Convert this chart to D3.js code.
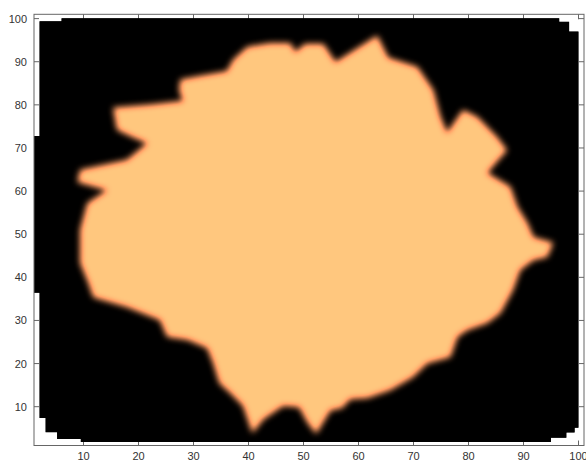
<!DOCTYPE html>
<html>
<head>
<meta charset="utf-8">
<script src="https://cdn.jsdelivr.net/npm/d3@7/dist/d3.min.js"></script>
<style>
  body { margin: 0; background: #fff; }
  svg { display: block; font-family: "Liberation Sans", Arial, sans-serif; }
</style>
</head>
<body>
<div id="chart"></div>
<script>
// axis ticks (both axes run 1..101)
const xTicks = [10, 20, 30, 40, 50, 60, 70, 80, 90, 100];
const yTicks = [10, 20, 30, 40, 50, 60, 70, 80, 90, 100];

// outline of the valid (non-NaN) part of the grid, value 0 -> black
const domainX = [1, 2, 2, 6, 6, 96.5, 96.5, 98.3, 98.3, 100, 100, 99.3, 99.3, 97.8, 97.8, 95, 95, 9.5, 9.5, 5.2, 5.2, 3.1, 3.1, 2, 2, 1];
const domainY = [72.8, 72.8, 99.4, 99.4, 100.1, 100.1, 99.3, 99.3, 97, 97, 5.1, 5.1, 4, 4, 2.8, 2.8, 1.8, 1.8, 2.5, 2.5, 4.1, 4.1, 7.4, 7.4, 36.4, 36.4];

// outline of the grown region, value 1
const blobX = [15.4, 22.1, 28.1, 27.4, 27.6, 31.2, 36.1, 37.2, 39.8, 43.9, 47.6, 48.5, 50.3, 53.6, 55.8, 63.4, 65.4, 70.7, 73.6, 74.9,
  76.1, 79.0, 81.6, 85.2, 87.0, 85.4, 83.4, 87.6, 88.9, 90.7, 91.8, 95.4, 94.3, 91.8, 89.4, 88.1, 85.8, 83.4, 79.8, 78.0,
  76.7, 72.5, 69.9, 65.8, 61.6, 58.5, 57.0, 54.9, 52.3, 50.7, 49.2, 46.3, 42.7, 40.7, 39.0, 36.7, 34.7, 33.6, 32.5, 28.9,
  25.2, 23.9, 17.9, 11.8, 10.9, 9.4, 9.4, 10.7, 14.3, 8.9, 9.4, 17.9, 21.6, 19.0, 16.1];
const blobY = [79.3, 80.0, 80.9, 83.4, 85.8, 86.7, 87.8, 90.4, 93.4, 94.3, 94.3, 92.2, 94.1, 94.1, 89.9, 96.0, 90.9, 88.8, 83.4, 77.2,
  73.5, 78.8, 77.2, 72.5, 69.5, 67.2, 64.2, 61.0, 56.3, 52.6, 49.3, 48.0, 44.7, 44.0, 41.7, 37.1, 31.7, 29.4, 27.8, 26.2,
  21.5, 20.1, 16.9, 13.9, 12.0, 11.8, 9.7, 9.2, 3.7, 6.4, 9.9, 10.2, 7.1, 3.9, 10.2, 13.2, 15.5, 20.1, 23.6, 25.5,
  26.2, 30.1, 33.1, 35.4, 38.7, 43.3, 51.0, 57.2, 60.2, 62.1, 64.9, 67.2, 71.1, 72.5, 74.2];

const W = 586, H = 464;

const svg = d3.select("#chart").append("svg")
  .attr("width", W)
  .attr("height", H);

const x = d3.scaleLinear().domain([1, 101]).range([34, 584]);
const y = d3.scaleLinear().domain([1, 101]).range([445.5, 14.3]);

const defs = svg.append("defs");

// interpolated shading: blur the value field, then map it through the copper colormap
const f = defs.append("filter")
  .attr("id", "copper")
  .attr("color-interpolation-filters", "sRGB")
  .attr("x", -0.2).attr("y", -0.2).attr("width", 1.4).attr("height", 1.4);
f.append("feGaussianBlur").attr("in", "SourceGraphic").attr("stdDeviation", 3.2).attr("result", "b");
f.append("feFlood").attr("flood-color", "#000").attr("result", "k");
f.append("feComposite").attr("in", "b").attr("in2", "k").attr("operator", "over").attr("result", "c");
const ct = f.append("feComponentTransfer").attr("in", "c");
ct.append("feFuncR").attr("type", "linear").attr("slope", 1.25);
ct.append("feFuncG").attr("type", "linear").attr("slope", 0.7812);
ct.append("feFuncB").attr("type", "linear").attr("slope", 0.4975);

const domainPts = domainX.map((d, i) => [d, domainY[i]]);
const blobPts = blobX.map((d, i) => [d, blobY[i]]);

const line = d3.line()
  .x(d => x(d[0]))
  .y(d => y(d[1]))
  .curve(d3.curveLinearClosed);

defs.append("clipPath").attr("id", "dom")
  .append("path").attr("d", line(domainPts));

// ticks first (inside, all four sides), the image covers most of them
const tickLen = 5;
const axisCol = "#666";
const g = svg.append("g");

g.selectAll(".xb").data(xTicks).enter().append("line")
  .attr("x1", d => x(d)).attr("x2", d => x(d))
  .attr("y1", y(1)).attr("y2", y(1) - tickLen)
  .attr("stroke", axisCol);
g.selectAll(".xt").data(xTicks).enter().append("line")
  .attr("x1", d => x(d)).attr("x2", d => x(d))
  .attr("y1", y(101)).attr("y2", y(101) + tickLen)
  .attr("stroke", axisCol);
g.selectAll(".yl").data(yTicks).enter().append("line")
  .attr("y1", d => y(d)).attr("y2", d => y(d))
  .attr("x1", x(1)).attr("x2", x(1) + tickLen)
  .attr("stroke", axisCol);
g.selectAll(".yr").data(yTicks).enter().append("line")
  .attr("y1", d => y(d)).attr("y2", d => y(d))
  .attr("x1", x(101)).attr("x2", x(101) - tickLen)
  .attr("stroke", axisCol);

// the image
const img = svg.append("g").attr("clip-path", "url(#dom)");
img.append("path")
  .attr("d", line(domainPts))
  .attr("fill", "#000");
img.append("path")
  .attr("d", line(blobPts))
  .attr("fill", "#fff")
  .attr("filter", "url(#copper)");

// box
svg.append("rect")
  .attr("x", x(1)).attr("y", y(101))
  .attr("width", x(101) - x(1))
  .attr("height", y(1) - y(101))
  .attr("fill", "none")
  .attr("stroke", axisCol)
  .attr("stroke-width", 1);

// tick labels
svg.selectAll(".xlab").data(xTicks).enter().append("text")
  .attr("x", d => x(d))
  .attr("y", 460)
  .attr("text-anchor", "middle")
  .attr("font-size", 11)
  .attr("fill", "#333")
  .text(d => d);

svg.selectAll(".ylab").data(yTicks).enter().append("text")
  .attr("x", 27)
  .attr("y", d => y(d) + 4)
  .attr("text-anchor", "end")
  .attr("font-size", 11)
  .attr("fill", "#333")
  .text(d => d);
</script>
</body>
</html>
